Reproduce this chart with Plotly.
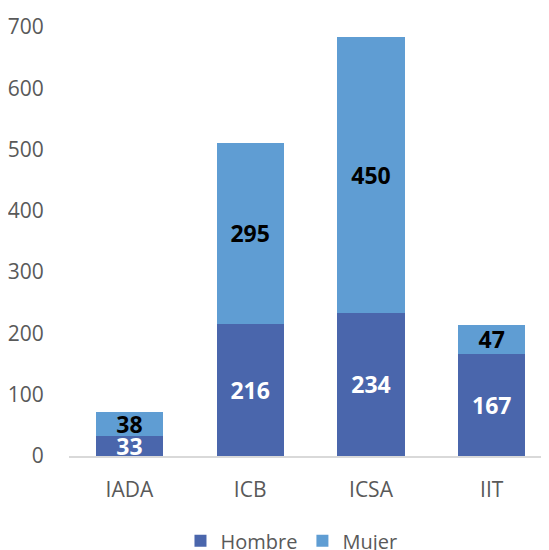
import plotly.graph_objects as go

categories = ["IADA", "ICB", "ICSA", "IIT"]
hombre = [33, 216, 234, 167]
mujer = [38, 295, 450, 47]
y_ticks = [0, 100, 200, 300, 400, 500, 600, 700]

font_family = "Open Sans, Noto Sans, sans-serif"

fig = go.Figure()
fig.add_trace(go.Bar(
    x=categories, y=hombre, name="Hombre",
    marker=dict(color="#4a66ac", line=dict(width=0)),
    text=[str(v) for v in hombre], textposition="inside",
    insidetextanchor="middle", constraintext="none",
    textfont=dict(color="white", size=23, family=font_family, weight="bold"),
    textangle=0,
))
fig.add_trace(go.Bar(
    x=categories, y=mujer, name="Mujer",
    marker=dict(color="#5f9dd3", line=dict(width=0)),
    text=[str(v) for v in mujer], textposition="inside",
    insidetextanchor="middle", constraintext="none",
    textfont=dict(color="black", size=23, family=font_family, weight="bold"),
    textangle=0,
))

fig.update_layout(
    barmode="stack",
    bargap=0.443,
    width=541, height=542,
    margin=dict(l=61, r=0, t=19, b=94),
    paper_bgcolor="white", plot_bgcolor="white",
    font=dict(family=font_family, size=21, color="#595959"),
    showlegend=True,
    legend=dict(orientation="h", x=0.524, xref="container", xanchor="center",
                y=0.017, yref="container", yanchor="middle",
                font=dict(size=20, color="#595959"), traceorder="normal",
                itemwidth=30),
    xaxis=dict(showline=True, linecolor="#d9d9d9", linewidth=1.5,
               range=[-0.5, 3.474], automargin=False,
               ticks="outside", ticklen=14, tickcolor="rgba(0,0,0,0)",
               showgrid=False, zeroline=False),
    yaxis=dict(range=[0, 700], tickvals=y_ticks, showgrid=False,
               zeroline=False, showline=False, automargin=False,
               ticks="outside", ticklen=20, tickcolor="rgba(0,0,0,0)"),
)

fig.write_html("out.html")
